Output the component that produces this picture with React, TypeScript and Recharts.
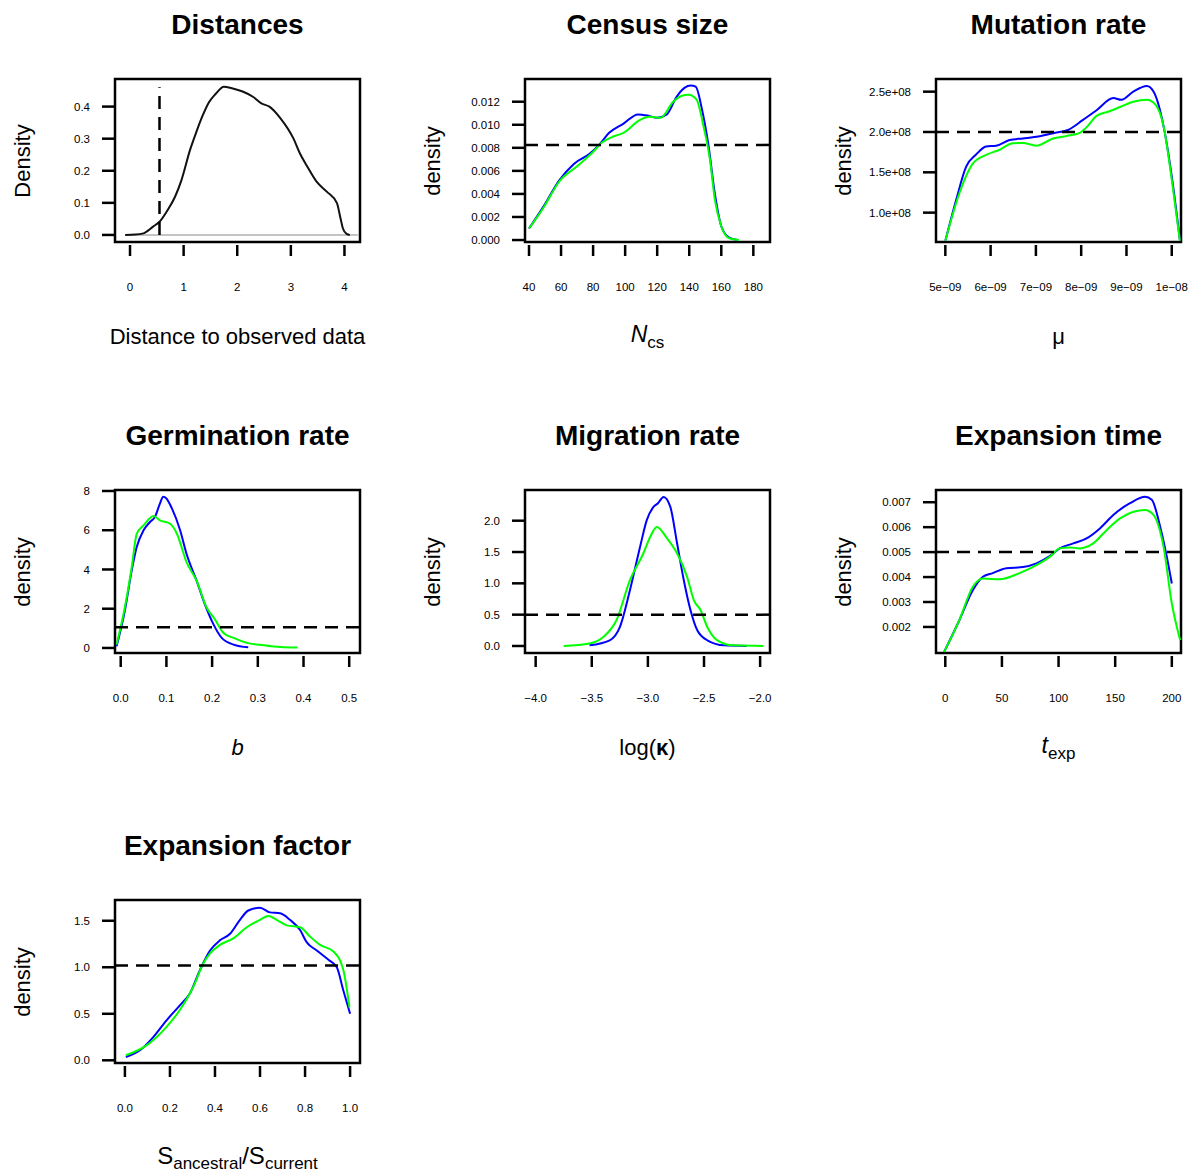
import React from "react";
import { LineChart, Line, XAxis, YAxis, ReferenceLine, ReferenceArea } from "recharts";

const FONT = '"Liberation Sans", Arial, Helvetica, sans-serif';
const CELL_W = 410;
const CELL_H = 411;
const BLUE = "#0000ff";
const GREEN = "#00ff00";

type Pt = [number, number];

// Distances (black density of distances, observed distance marked)
const distanceCurve: Pt[] = [
  [-0.09, 0], [0.1, 0.001], [0.25, 0.005], [0.43, 0.026], [0.55, 0.041], [0.685, 0.073],
  [0.84, 0.119], [0.96, 0.171], [1.12, 0.265], [1.24, 0.322], [1.35, 0.37], [1.47, 0.413],
  [1.6, 0.44], [1.75, 0.462], [1.9, 0.457], [2.1, 0.447], [2.3, 0.43], [2.45, 0.41],
  [2.6, 0.4], [2.8, 0.365], [3.05, 0.3], [3.17, 0.254], [3.3, 0.215], [3.48, 0.166],
  [3.67, 0.135], [3.86, 0.099], [3.92, 0.057], [3.97, 0.021], [4.04, 0.003], [4.1, 0],
];
const distanceRange: [number, number] = [-0.09, 4.25];
const observedDistance = 0.55;
const observedTop = 0.46;
const distanceXTicks = [0, 1, 2, 3, 4];
const distanceYTicks = [0, 0.1, 0.2, 0.3, 0.4];

// Census size
const censusBlue: Pt[] = [
  [40, 0.001], [49, 0.0029], [59, 0.0052], [68, 0.0066], [78, 0.0075], [84, 0.0083],
  [90, 0.0093], [99, 0.0101], [108, 0.0109], [114, 0.0108], [120, 0.0106], [126, 0.0109],
  [132, 0.0124], [137, 0.0132], [141, 0.0134], [144, 0.0133], [148, 0.0113], [152, 0.0082],
  [156, 0.004], [160, 0.0012], [165, 0.0002], [170, 0],
];
const censusGreen: Pt[] = [
  [40, 0.001], [49, 0.0028], [59, 0.0051], [70, 0.0064], [79, 0.0075], [86, 0.0085],
  [93, 0.009], [99, 0.0093], [109, 0.0104], [115, 0.0107], [122, 0.0106], [130, 0.012],
  [135, 0.0125], [139.5, 0.0126], [144.5, 0.0122], [149, 0.0098], [153, 0.0069],
  [156, 0.0035], [160, 0.0012], [165, 0.00015], [171, 0],
];
const censusPrior = 0.00825;
const censusXTicks = [40, 60, 80, 100, 120, 140, 160, 180];
const censusYTicks = [0, 0.002, 0.004, 0.006, 0.008, 0.01, 0.012];

// Mutation rate
const muBlue: Pt[] = [
  [5.0e-9, 0.65e8], [5.24e-9, 1.16e8], [5.46e-9, 1.57e8], [5.68e-9, 1.72e8], [5.9e-9, 1.82e8],
  [6.12e-9, 1.83e8], [6.42e-9, 1.9e8], [6.71e-9, 1.92e8], [7.01e-9, 1.94e8], [7.38e-9, 1.985e8],
  [7.71e-9, 2.025e8], [8.04e-9, 2.15e8], [8.34e-9, 2.27e8], [8.71e-9, 2.42e8], [8.89e-9, 2.4e8],
  [9.15e-9, 2.5e8], [9.45e-9, 2.57e8], [9.6e-9, 2.5e8], [9.82e-9, 2.07e8], [10.0e-9, 1.45e8],
  [10.18e-9, 0.66e8],
];
const muGreen: Pt[] = [
  [5.0e-9, 0.65e8], [5.31e-9, 1.24e8], [5.61e-9, 1.61e8], [5.9e-9, 1.716e8], [6.2e-9, 1.78e8],
  [6.49e-9, 1.86e8], [6.71e-9, 1.865e8], [7.01e-9, 1.83e8], [7.38e-9, 1.92e8], [7.68e-9, 1.95e8],
  [7.97e-9, 1.99e8], [8.12e-9, 2.06e8], [8.34e-9, 2.2e8], [8.64e-9, 2.26e8], [8.86e-9, 2.31e8],
  [9.15e-9, 2.375e8], [9.45e-9, 2.4e8], [9.64e-9, 2.34e8], [9.82e-9, 2.07e8], [10.0e-9, 1.41e8],
  [10.18e-9, 0.65e8],
];
const muPrior = 2.0e8;
const muXTicks = [5e-9, 6e-9, 7e-9, 8e-9, 9e-9, 1e-8];
const muXLabels = ["5e\u221209", "6e\u221209", "7e\u221209", "8e\u221209", "9e\u221209", "1e\u221208"];
const muYTicks = [1.0e8, 1.5e8, 2.0e8, 2.5e8];
const muYLabels = ["1.0e+08", "1.5e+08", "2.0e+08", "2.5e+08"];

// Germination rate
const germBlue: Pt[] = [
  [-0.009, 0.09], [0.009, 1.89], [0.024, 3.94], [0.035, 5.14], [0.05, 6.0], [0.064, 6.42],
  [0.075, 6.68], [0.086, 7.37], [0.093, 7.71], [0.1, 7.62], [0.112, 7.11], [0.13, 6.0],
  [0.144, 4.8], [0.166, 3.43], [0.184, 2.23], [0.203, 1.2], [0.221, 0.51], [0.247, 0.17],
  [0.279, 0.03],
];
const germGreen: Pt[] = [
  [-0.009, 0.17], [0.009, 2.06], [0.024, 4.1], [0.035, 5.82], [0.05, 6.25], [0.072, 6.72],
  [0.086, 6.5], [0.108, 6.33], [0.123, 5.82], [0.144, 4.37], [0.166, 3.43], [0.188, 2.06],
  [0.206, 1.46], [0.225, 0.76], [0.247, 0.51], [0.276, 0.26], [0.313, 0.14], [0.35, 0.05],
  [0.387, 0.02],
];
const germPrior = 1.05;
const germXTicks = [0, 0.1, 0.2, 0.3, 0.4, 0.5];
const germYTicks = [0, 2, 4, 6, 8];

// Migration rate
const kappaBlue: Pt[] = [
  [-3.52, 0.01], [-3.34, 0.09], [-3.25, 0.3], [-3.16, 0.89], [-3.07, 1.58], [-3.01, 2.01],
  [-2.95, 2.22], [-2.91, 2.28], [-2.86, 2.38], [-2.8, 2.22], [-2.74, 1.64], [-2.68, 1.05],
  [-2.62, 0.57], [-2.56, 0.25], [-2.47, 0.09], [-2.32, 0.01], [-2.12, 0],
];
const kappaGreen: Pt[] = [
  [-3.75, 0], [-3.52, 0.04], [-3.4, 0.14], [-3.28, 0.41], [-3.16, 1.05], [-3.04, 1.48],
  [-2.98, 1.74], [-2.92, 1.9], [-2.83, 1.72], [-2.74, 1.48], [-2.65, 1.1], [-2.59, 0.73],
  [-2.53, 0.57], [-2.47, 0.3], [-2.38, 0.09], [-2.24, 0.01], [-1.97, 0],
];
const kappaPrior = 0.5;
const kappaXTicks = [-4, -3.5, -3, -2.5, -2];
const kappaYTicks = [0, 0.5, 1, 1.5, 2];

// Expansion time
const texpBlue: Pt[] = [
  [-1, 0.001], [12.4, 0.00227], [24.3, 0.00347], [33.2, 0.00401], [41.9, 0.00416],
  [53.9, 0.00435], [68.6, 0.0044], [80.5, 0.00455], [92.2, 0.00484], [101, 0.00515],
  [113, 0.00535], [124.7, 0.00555], [136.5, 0.00595], [148.3, 0.00649], [163.1, 0.00696],
  [176.4, 0.00722], [182.3, 0.0071], [189.7, 0.00602], [195.6, 0.00481], [200, 0.00374],
];
const texpGreen: Pt[] = [
  [-1, 0.001], [12.4, 0.00227], [24.3, 0.00361], [33.2, 0.00394], [48, 0.00391],
  [65.6, 0.00416], [80.5, 0.00448], [92.2, 0.00481], [101, 0.00515], [110, 0.00519],
  [118.8, 0.00515], [130.6, 0.00535], [142.4, 0.00588], [154.3, 0.00635], [166.1, 0.00662],
  [176.4, 0.00669], [183.8, 0.00649], [192.7, 0.00521], [200, 0.00294], [207.4, 0.00147],
];
const texpPrior = 0.005;
const texpXTicks = [0, 50, 100, 150, 200];
const texpYTicks = [0.002, 0.003, 0.004, 0.005, 0.006, 0.007];

// Expansion factor
const factorBlue: Pt[] = [
  [0.004, 0.036], [0.067, 0.108], [0.126, 0.25], [0.185, 0.43], [0.244, 0.59], [0.289, 0.72],
  [0.333, 0.97], [0.378, 1.18], [0.422, 1.29], [0.467, 1.36], [0.511, 1.51], [0.548, 1.61],
  [0.6, 1.64], [0.644, 1.59], [0.689, 1.58], [0.733, 1.51], [0.778, 1.4], [0.807, 1.27],
  [0.852, 1.18], [0.904, 1.08], [0.941, 1.0], [0.97, 0.75], [1.0, 0.5],
];
const factorGreen: Pt[] = [
  [0.004, 0.054], [0.096, 0.16], [0.185, 0.36], [0.244, 0.54], [0.304, 0.79], [0.348, 1.04],
  [0.378, 1.15], [0.422, 1.24], [0.481, 1.31], [0.541, 1.43], [0.6, 1.51], [0.637, 1.55],
  [0.674, 1.51], [0.719, 1.45], [0.778, 1.43], [0.822, 1.33], [0.867, 1.24], [0.926, 1.17],
  [0.97, 0.97], [0.997, 0.57],
];
const factorPrior = 1.02;
const factorXTicks = [0, 0.2, 0.4, 0.6, 0.8, 1.0];
const factorYTicks = [0, 0.5, 1.0, 1.5];

const minus = (s: string) => s.replace("-", "\u2212");
const toRows = (pts: Pt[]) => pts.map(([x, y]) => ({ x, y }));

// R style x tick: small gap below the box, label further down
const XTick = (props: any) => {
  const { x, y, payload, fmt } = props;
  return (
    <g>
      <line x1={x} x2={x} y1={y + 3} y2={y + 14} stroke="#000" strokeWidth={2.5} />
      <text x={x} y={y + 49} textAnchor="middle" fontSize={11.5} fontFamily={FONT} fill="#000">
        {fmt(payload.value)}
      </text>
    </g>
  );
};

interface PanelProps {
  left: number;
  top: number;
  title: string;
  yLabel: string;
  xLabel: React.ReactNode;
  xDomain: [number, number];
  yDomain: [number, number];
  xTicks: number[];
  yTicks: number[];
  xFmt: (v: number) => string;
  yFmt: (v: number) => string;
  curves: { points: Pt[]; color: string }[];
  hLine?: number;
  vSegment?: [number, number, number];
  zeroRange?: [number, number];
}

const Panel = (p: PanelProps) => (
  <div style={{ position: "absolute", left: p.left, top: p.top, width: CELL_W, height: CELL_H }}>
    <LineChart width={CELL_W} height={CELL_H} margin={{ top: 79, right: 50, bottom: 109, left: 55 }}>
      <XAxis
        type="number"
        dataKey="x"
        domain={p.xDomain}
        ticks={p.xTicks}
        allowDataOverflow
        interval={0}
        axisLine={false}
        tickLine={false}
        tickSize={0}
        tickMargin={0}
        height={60}
        tick={(t: any) => <XTick {...t} fmt={p.xFmt} />}
      />
      <YAxis
        type="number"
        domain={p.yDomain}
        ticks={p.yTicks}
        allowDataOverflow
        interval={0}
        axisLine={false}
        tickLine={{ stroke: "#000", strokeWidth: 2.5 }}
        tickSize={13}
        tickMargin={12}
        width={60}
        tick={{ fontSize: 11.5, fill: "#000", fontFamily: FONT }}
        tickFormatter={p.yFmt}
      />
      {p.zeroRange && (
        <ReferenceLine
          segment={[
            { x: p.zeroRange[0], y: 0 },
            { x: p.zeroRange[1], y: 0 },
          ]}
          stroke="#b0b0b0"
          strokeWidth={1.5}
        />
      )}
      {p.curves.map((c, i) => (
        <Line
          key={i}
          data={toRows(c.points)}
          dataKey="y"
          type="monotone"
          stroke={c.color}
          strokeWidth={2}
          dot={false}
          activeDot={false}
          isAnimationActive={false}
        />
      ))}
      {p.hLine !== undefined && (
        <ReferenceLine y={p.hLine} stroke="#000" strokeWidth={2.5} strokeDasharray="13 8" />
      )}
      {p.vSegment && (
        <ReferenceLine
          segment={[
            { x: p.vSegment[0], y: p.vSegment[1] },
            { x: p.vSegment[0], y: p.vSegment[2] },
          ]}
          stroke="#000"
          strokeWidth={2.5}
          strokeDasharray="13 8"
        />
      )}
      <ReferenceArea
        x1={p.xDomain[0]}
        x2={p.xDomain[1]}
        y1={p.yDomain[0]}
        y2={p.yDomain[1]}
        fill="none"
        fillOpacity={0}
        stroke="#000"
        strokeWidth={2.5}
        ifOverflow="visible"
      />
    </LineChart>
    <div
      style={{
        position: "absolute", left: 237.5, top: 25, transform: "translate(-50%, -50%)",
        fontSize: 28, fontWeight: "bold", whiteSpace: "nowrap", lineHeight: 1,
      }}
    >
      {p.title}
    </div>
    <div
      style={{
        position: "absolute", left: 23, top: 160.5, transform: "translate(-50%, -50%) rotate(-90deg)",
        fontSize: 22, whiteSpace: "nowrap", lineHeight: 1,
      }}
    >
      {p.yLabel}
    </div>
    <div
      style={{
        position: "absolute", left: 237.5, top: 337, transform: "translate(-50%, -50%)",
        fontSize: 22, whiteSpace: "nowrap", lineHeight: 1,
      }}
    >
      {p.xLabel}
    </div>
  </div>
);

const sub = (s: string) => <span style={{ fontSize: 17, verticalAlign: "-0.3em" }}>{s}</span>;

export default function App() {
  const cols = [0, 410, 821];
  const rows = [0, 411, 821];
  return (
    <div
      style={{
        position: "absolute", left: 0, top: 0, width: 1192, height: 1173, overflow: "hidden",
        background: "#fff", fontFamily: FONT, color: "#000",
      }}
    >
      <Panel
        left={cols[0]} top={rows[0]} title="Distances" yLabel="Density"
        xLabel="Distance to observed data"
        xDomain={[-0.28, 4.29]} yDomain={[-0.022, 0.486]}
        xTicks={distanceXTicks} yTicks={distanceYTicks}
        xFmt={(v) => String(v)} yFmt={(v) => v.toFixed(1)}
        curves={[{ points: distanceCurve, color: "#111" }]}
        vSegment={[observedDistance, 0, observedTop]} zeroRange={distanceRange}
      />
      <Panel
        left={cols[1]} top={rows[0]} title="Census size" yLabel="density"
        xLabel={<span><i style={{ fontSize: 23 }}>N</i>{sub("cs")}</span>}
        xDomain={[37.5, 190.4]} yDomain={[-0.00017, 0.01397]}
        xTicks={censusXTicks} yTicks={censusYTicks}
        xFmt={(v) => String(v)} yFmt={(v) => v.toFixed(3)}
        curves={[{ points: censusBlue, color: BLUE }, { points: censusGreen, color: GREEN }]}
        hLine={censusPrior}
      />
      <Panel
        left={cols[2]} top={rows[0]} title="Mutation rate" yLabel="density"
        xLabel={<span>μ</span>}
        xDomain={[4.794e-9, 10.204e-9]} yDomain={[0.636e8, 2.657e8]}
        xTicks={muXTicks} yTicks={muYTicks}
        xFmt={(v) => muXLabels[muXTicks.indexOf(v)] ?? ""}
        yFmt={(v) => muYLabels[muYTicks.indexOf(v)] ?? ""}
        curves={[{ points: muBlue, color: BLUE }, { points: muGreen, color: GREEN }]}
        hLine={muPrior}
      />
      <Panel
        left={cols[0]} top={rows[1]} title="Germination rate" yLabel="density"
        xLabel={<i>b</i>}
        xDomain={[-0.0125, 0.5236]} yDomain={[-0.257, 8.05]}
        xTicks={germXTicks} yTicks={germYTicks}
        xFmt={(v) => v.toFixed(1)} yFmt={(v) => String(v)}
        curves={[{ points: germBlue, color: BLUE }, { points: germGreen, color: GREEN }]}
        hLine={germPrior}
      />
      <Panel
        left={cols[1]} top={rows[1]} title="Migration rate" yLabel="density"
        xLabel={<span>log(<b>κ</b>)</span>}
        xDomain={[-4.095, -1.912]} yDomain={[-0.112, 2.49]}
        xTicks={kappaXTicks} yTicks={kappaYTicks}
        xFmt={(v) => minus(v.toFixed(1))} yFmt={(v) => v.toFixed(1)}
        curves={[{ points: kappaBlue, color: BLUE }, { points: kappaGreen, color: GREEN }]}
        hLine={kappaPrior}
      />
      <Panel
        left={cols[2]} top={rows[1]} title="Expansion time" yLabel="density"
        xLabel={<span><i style={{ fontSize: 23 }}>t</i>{sub("exp")}</span>}
        xDomain={[-8.2, 208.1]} yDomain={[0.000956, 0.00749]}
        xTicks={texpXTicks} yTicks={texpYTicks}
        xFmt={(v) => String(v)} yFmt={(v) => v.toFixed(3)}
        curves={[{ points: texpBlue, color: BLUE }, { points: texpGreen, color: GREEN }]}
        hLine={texpPrior}
      />
      <Panel
        left={cols[0]} top={rows[2]} title="Expansion factor" yLabel="density"
        xLabel={
          <span>
            <span style={{ fontSize: 24 }}>S</span>{sub("ancestral")}
            <span style={{ fontSize: 24 }}>/</span>
            <span style={{ fontSize: 24 }}>S</span>{sub("current")}
          </span>
        }
        xDomain={[-0.044, 1.044]} yDomain={[-0.029, 1.723]}
        xTicks={factorXTicks} yTicks={factorYTicks}
        xFmt={(v) => v.toFixed(1)} yFmt={(v) => v.toFixed(1)}
        curves={[{ points: factorBlue, color: BLUE }, { points: factorGreen, color: GREEN }]}
        hLine={factorPrior}
      />
    </div>
  );
}
